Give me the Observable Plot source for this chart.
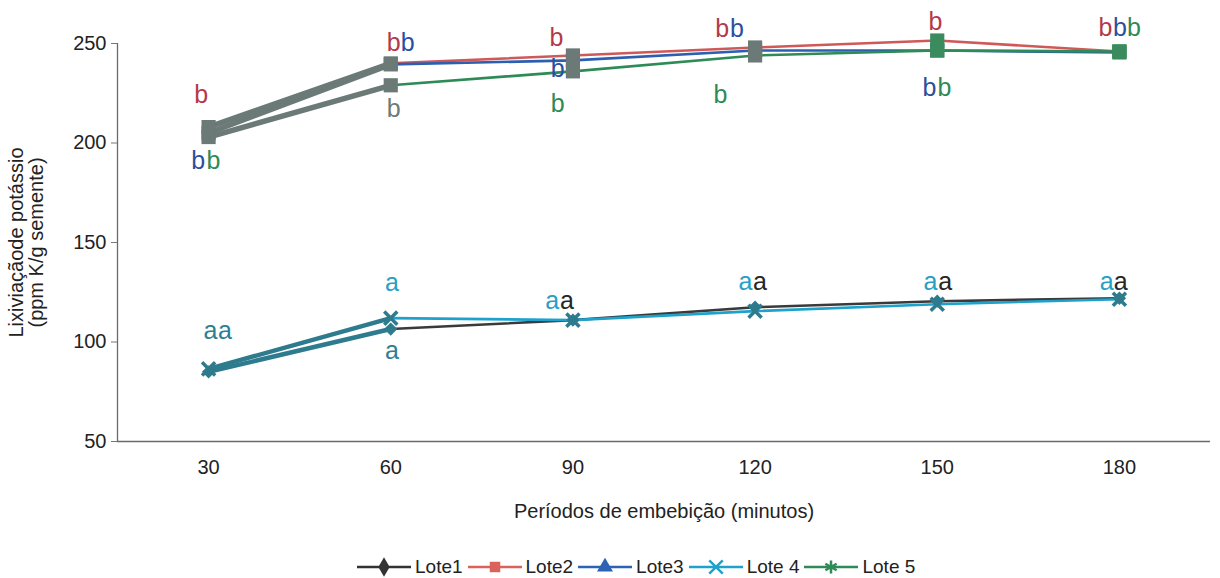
<!DOCTYPE html>
<html><head><meta charset="utf-8">
<script src="https://cdn.jsdelivr.net/npm/d3@7"></script>
<script src="https://cdn.jsdelivr.net/npm/@observablehq/plot@0.6"></script>
<style>
body{margin:0;background:#fff;font-family:"Liberation Sans",Arial,sans-serif;}
#chart{width:1220px;height:578px;position:relative;overflow:hidden;background:#fff}
#legend{display:flex;align-items:center;margin-left:356px;margin-top:9px;font-size:19px;color:#222;height:40px;font-family:"Liberation Sans Narrow","Liberation Sans",Arial,sans-serif}
.item{display:flex;align-items:center;margin-right:4px}
.item svg{display:block;margin-right:3px}
</style></head><body><div id="chart"></div>
<script>
// ---- data ----
const minutes = [30, 60, 90, 120, 150, 180];
const loteNames = ["Lote1", "Lote2", "Lote3", "Lote 4", "Lote 5"];
const lote1 = [85, 106.5, 111, 117.5, 120.5, 122];
const lote2 = [208, 240, 244, 248, 251.5, 246];
const lote3 = [205, 239.5, 241.5, 246.5, 246.5, 245.5];
const lote4 = [86.5, 112, 111, 115.5, 119, 121.5];
const lote5 = [203, 229, 236, 244, 246.5, 246];
const upperGroup = ["Lote2", "Lote3", "Lote 5"];
const yTicks = [50, 100, 150, 200, 250];
// significance letters: [minute, value, letter, tone]
const letterMinutes = [28.8, 28.3, 30.8, 60.5, 62.8, 60.5, 87.3, 87.5, 87.5, 114.6, 117.0, 114.3, 149.7, 148.7, 151.2, 177.7, 180.1, 182.4,
  30.3, 32.7, 60.2, 60.2, 86.6, 89.0, 118.4, 120.8, 148.9, 151.3, 177.9, 180.2];
const letterValues = [223.9, 191.2, 191.2, 250.5, 250.5, 217.3, 253, 237.4, 219.8, 257.5, 257.5, 223.9, 260.6, 227.4, 227.4, 258, 258, 258,
  105.7, 105.7, 129.5, 95.7, 120.4, 120.4, 129.9, 129.9, 129.9, 129.9, 129.9, 129.9];
const letterTexts = ["b","b","b","b","b","b","b","b","b","b","b","b","b","b","b","b","b","b",
  "a","a","a","a","a","a","a","a","a","a","a","a"];
const letterTones = ["red","blue","green","red","blue","gray","red","blue","green","red","blue","green","red","blue","green","red","blue","green",
  "teal","teal","cyan","teal","cyan","black","cyan","black","cyan","black","cyan","black"];

// ---- styles ----
const seriesColor = {"Lote1": "#3a3a3a", "Lote2": "#cf5858", "Lote3": "#2c5fb0", "Lote 4": "#1ea2cc", "Lote 5": "#2e8b57"};
const toneColor = {red: "#b3394a", blue: "#2a4f9e", green: "#2e8a55", gray: "#6c7a78", teal: "#2d7f96", cyan: "#27a0c6", black: "#262626"};
const grayMark = "#6c7a77", tealMark = "#2e7b8d", greenMark = "#3a8b5e";

const values = [lote1, lote2, lote3, lote4, lote5];
const rows = loteNames.flatMap((name, i) => minutes.map((m, j) => ({lote: name, minute: m, value: values[i][j], upper: upperGroup.includes(name)})));
const letters = letterTexts.map((t, i) => ({minute: letterMinutes[i], value: letterValues[i], text: t, tone: letterTones[i]}));

const xDomain = [15, 195];
const drawOrder = ["Lote1", "Lote 4", "Lote2", "Lote3", "Lote 5"];

const marks = [];
marks.push(Plot.ruleY([yTicks[0]], {stroke: "#6a6a6a", strokeWidth: 1.3}));
marks.push(Plot.ruleX([xDomain[0]], {y1: yTicks[0], y2: yTicks[yTicks.length - 1], stroke: "#6a6a6a", strokeWidth: 1.3}));
// thin series lines from 60 on
for (const name of drawOrder) {
  marks.push(Plot.line(rows.filter(d => d.lote === name && d.minute >= 60), {x: "minute", y: "value", stroke: seriesColor[name], strokeWidth: 2.6}));
}
// heavy first segments
marks.push(Plot.line(rows.filter(d => d.upper && d.minute <= 60), {x: "minute", y: "value", z: "lote", stroke: grayMark, strokeWidth: 5.5}));
marks.push(Plot.line(rows.filter(d => !d.upper && d.minute <= 60), {x: "minute", y: "value", z: "lote", stroke: tealMark, strokeWidth: 4.5}));
// markers upper
marks.push(Plot.dot(rows.filter(d => d.upper && d.minute <= 120), {x: "minute", y: "value", symbol: "square", r: 8, fill: grayMark}));
marks.push(Plot.dot(rows.filter(d => d.upper && d.minute >= 150), {x: "minute", y: "value", symbol: "square", r: 8, fill: greenMark}));
// markers lower
marks.push(Plot.dot(rows.filter(d => d.lote === "Lote1"), {x: "minute", y: "value", symbol: "diamond2", r: 6, fill: tealMark}));
marks.push(Plot.dot(rows.filter(d => d.lote === "Lote 4"), {x: "minute", y: "value", symbol: "times", r: 6, stroke: tealMark, strokeWidth: 3.5}));
// letters
marks.push(Plot.text(letters, {x: "minute", y: "value", text: "text", fill: d => toneColor[d.tone], fontSize: 25, fontFamily: "Liberation Sans, Arial, sans-serif"}));
// axes
marks.push(Plot.axisY({ticks: yTicks, tickSize: 6, tickPadding: 5, stroke: "#777", label: "Lixiviaçãode potássio\n(ppm K/g semente)", labelAnchor: "center", labelOffset: 109, labelArrow: "none"}));
marks.push(Plot.axisX({ticks: minutes, tickSize: 0, tickPadding: 18, label: "Períodos de embebição (minutos)", labelAnchor: "center", labelOffset: 76, labelArrow: "none"}));

const plot = Plot.plot({
  width: 1220, height: 538,
  marginLeft: 117, marginRight: 10, marginTop: 43, marginBottom: 97,
  x: {domain: xDomain},
  y: {domain: [yTicks[0], yTicks[yTicks.length - 1]]},
  color: {type: "identity"},
  style: {fontSize: "20px", fontFamily: "Liberation Sans, Arial, sans-serif", color: "#222", background: "#fff", overflow: "visible"},
  marks
});
const chart = document.getElementById("chart");
chart.appendChild(plot);

// legend
const legend = document.createElement("div");
legend.id = "legend";
const legendSymbols = ["diamond", "square", "triangle", "times", "asterisk"];
const legendColors = ["#333333", "#d9625a", "#2c63b5", "#1ea2cc", "#2e8b57"];
loteNames.forEach((name, i) => {
  const item = document.createElement("div");
  item.className = "item";
  const svg = d3.create("svg").attr("width", 56).attr("height", 20);
  svg.append("line").attr("x1", 1).attr("x2", 55).attr("y1", 10).attr("y2", 10).attr("stroke", legendColors[i]).attr("stroke-width", 2.5);
  const sym = {diamond: d3.symbolDiamond, square: d3.symbolSquare, triangle: d3.symbolTriangle, times: d3.symbolTimes, asterisk: d3.symbolAsterisk}[legendSymbols[i]];
  const filled = ["diamond", "square", "triangle"].includes(legendSymbols[i]);
  svg.append("path").attr("transform", "translate(28,10)").attr("d", d3.symbol(sym, filled ? 110 : 120)())
    .attr("fill", filled ? legendColors[i] : "none").attr("stroke", legendColors[i]).attr("stroke-width", filled ? 0 : 2.5);
  item.appendChild(svg.node());
  const label = document.createElement("span");
  label.textContent = name;
  item.appendChild(label);
  legend.appendChild(item);
});
chart.appendChild(legend);
</script></body></html>
